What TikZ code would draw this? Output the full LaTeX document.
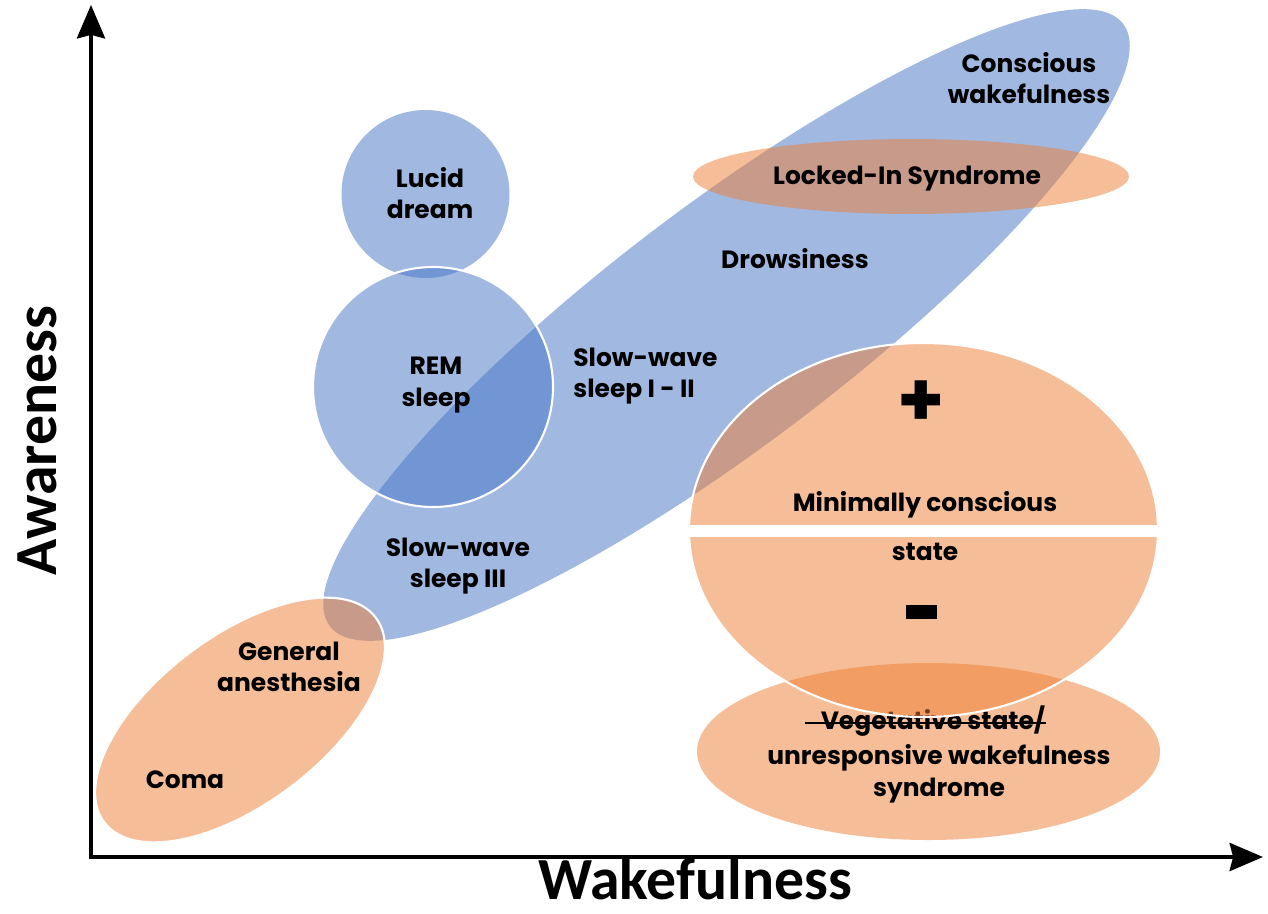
\documentclass[tikz,border=0pt]{standalone}
\usepackage{fontspec}
\setmainfont{Poppins}
\newfontfamily\axisfont{Carlito}
\usetikzlibrary{arrows.meta}
\definecolor{sleepblue}{RGB}{68,114,196}
\definecolor{clinicorange}{RGB}{237,125,49}

\begin{document}
\begin{tikzpicture}[x=0.02cm,y=-0.02cm]
            \tikzstyle{every node} = [font=\bfseries\fontsize{14.2}{18}\selectfont, align=center, inner sep=0pt]
            \tikzstyle{sleep} = [fill=sleepblue, fill opacity=0.5]
            \tikzstyle{clinic} = [fill=clinicorange, fill opacity=0.5]
            \tikzstyle{rim} = [draw=white, line width=1.2pt]
            \tikzstyle{axislabel} = [font=\axisfont\bfseries\fontsize{34}{36}\selectfont]
            \useasboundingbox (0,0) rectangle (1268,913);

            \fill[sleep, rotate around={37.2:(726.5,325)}] (726.5,325) ellipse [x radius=498, y radius=119.5];
            \fill[sleep] (425.5,194) circle [radius=84];
            \filldraw[sleep, rim] (433,387) circle [radius=120];
            \fill[clinic] (911,176.5) ellipse [x radius=218, y radius=37.5];
            \filldraw[clinic, rim, rotate around={37:(240,720)}] (240,720) ellipse [x radius=170, y radius=84];

            \fill[clinic] (928.5,751.5) ellipse [x radius=231.5, y radius=88.5];
            \node (vegetative) at (933,721) {Vegetative state/};
            \draw[line width=1.1pt] ([xshift=-0.3cm, yshift=0.13cm]vegetative.base west)
                -- ([yshift=0.13cm]vegetative.base east);

            \filldraw[clinic, rim] (923.5,530) ellipse [x radius=234.5, y radius=187];
            \begin{scope}
                \clip (923.5,530) ellipse [x radius=236, y radius=189];
                \fill[white] (680,525) rectangle (1170,537);
            \end{scope}

            \node (conscious) at (1029,78) {Conscious\\wakefulness};
            \node (lockedin) at (907,179) {Locked-In Syndrome};
            \node (lucid) at (430,193) {Lucid\\dream};
            \node (drowsiness) at (795,259) {Drowsiness};
            \node (rem) at (436,385) {REM\\sleep};
            \node[anchor=west, align=left] (slowlight) at (573,376) {Slow-wave\\sleep I - II};
            \node (slowdeep) at (458,566) {Slow-wave\\sleep III};
            \node[font=\bfseries\fontsize{43}{45}\selectfont] (plus) at (921,404) {+};
            \node (mcs) at (925,505) {Minimally conscious};
            \node (mcsstate) at (925,552) {state};
            \node[fill=black, minimum width=0.62cm, minimum height=0.28cm] (minus) at (921,612) {};
            \node (anesthesia) at (289,667) {General\\anesthesia};
            \node (coma) at (185,780) {Coma};
            \node (unresponsive) at (939,774) {unresponsive wakefulness\\syndrome};

            \coordinate (origin) at (91,857);
            \coordinate (ytip) at (91,5);
            \coordinate (xtip) at (1263,857);
            \draw[line width=2.1pt, {Stealth[length=19pt, width=16pt, inset=2pt]}-{Stealth[length=19pt, width=16pt, inset=2pt]}]
                (ytip) -- (origin) -- (xtip);
            \node[axislabel, anchor=base] (wakefulness) at (695,899) {Wakefulness};
            \node[axislabel, rotate=90] (awareness) at (37,441) {Awareness};
        \end{tikzpicture}
\end{document}
